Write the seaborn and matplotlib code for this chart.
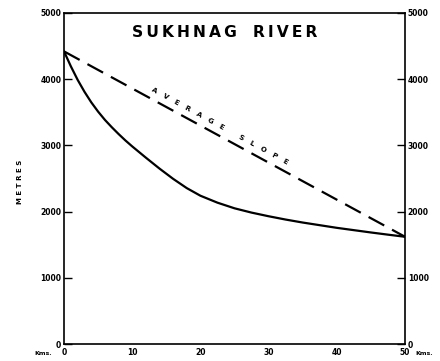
import numpy as np
import matplotlib
matplotlib.use("Agg")
import matplotlib.pyplot as plt
import seaborn as sns
import pandas as pd

# river long profile (km from source vs metres)
km = [0, 1, 2, 3, 4, 5, 6, 7, 8, 9, 10, 12, 14, 16, 18, 20, 22.5, 25,
      27.5, 30, 32.5, 35, 37.5, 40, 42.5, 45, 47.5, 50]
metres = [4420, 4195, 3990, 3810, 3650, 3510, 3385, 3275, 3172, 3075, 2985,
          2815, 2650, 2495, 2355, 2240, 2135, 2050, 1985, 1930, 1880, 1835,
          1795, 1755, 1720, 1685, 1652, 1620]
slope_km = [0, 50]
slope_m = [4420, 1620]
x_ticks = [0, 10, 20, 30, 40, 50]
y_ticks = [0, 1000, 2000, 3000, 4000, 5000]

sns.set_style("white")
plt.rcParams["font.family"] = ["DejaVu Sans"]
plt.rcParams["text.color"] = "black"

fig = plt.figure(figsize=(4.4, 3.61), dpi=100)
ax = fig.add_axes([0.1455, 0.047, 0.775, 0.917])

profile = pd.DataFrame({"km": km, "m": metres})
avg = pd.DataFrame({"km": slope_km, "m": slope_m})
sns.lineplot(data=profile, x="km", y="m", ax=ax, color="black", lw=1.6)
sns.lineplot(data=avg, x="km", y="m", ax=ax, color="black", lw=1.6,
             linestyle=(0, (8, 4)))

ax.set_xlim(0, 50)
ax.set_ylim(0, 5000)
ax.set_xlabel("")
ax.set_ylabel("")
for s in ax.spines.values():
    s.set_color("black")
    s.set_linewidth(1.2)

tick_kw = dict(direction="in", length=6, width=1, labelsize=5.5,
               color="black", labelcolor="black")
ax.set_xticks(x_ticks)
ax.set_xticklabels([str(t) for t in x_ticks], fontweight="bold")
ax.set_yticks(y_ticks)
ax.set_yticklabels([str(t) for t in y_ticks], fontweight="bold")
ax.tick_params(axis="both", pad=2, **tick_kw)
ax.tick_params(axis="x", pad=3)

ax2 = ax.twinx()
ax2.set_ylim(0, 5000)
ax2.set_yticks(y_ticks)
ax2.set_yticklabels([str(t) for t in y_ticks], fontweight="bold")
ax2.tick_params(axis="y", pad=2, **tick_kw)
for s in ax2.spines.values():
    s.set_visible(False)

ax.text(-0.035, -0.03, "Kms.", transform=ax.transAxes, fontsize=4.5,
        fontweight="bold", ha="right", va="center")
ax.text(1.03, -0.03, "Kms.", transform=ax.transAxes, fontsize=4.5,
        fontweight="bold", ha="left", va="center")

ax.text(0.47, 0.94, "\u2009".join("SUKHNAG") + "   " + "\u2009".join("RIVER"),
        transform=ax.transAxes, fontsize=11.2, fontweight="bold",
        ha="center", va="center")

fig.text(0.045, 0.495, "M E T R E S", rotation=90, fontsize=5,
         fontweight="bold", ha="center", va="center")

ax.text(22.8, 3290, "A   V   E   R   A   G   E       S   L   O   P   E",
        rotation=-28.5, fontsize=5, fontweight="bold", ha="center",
        va="center", rotation_mode="anchor")

fig.savefig("out.png", dpi=100)
